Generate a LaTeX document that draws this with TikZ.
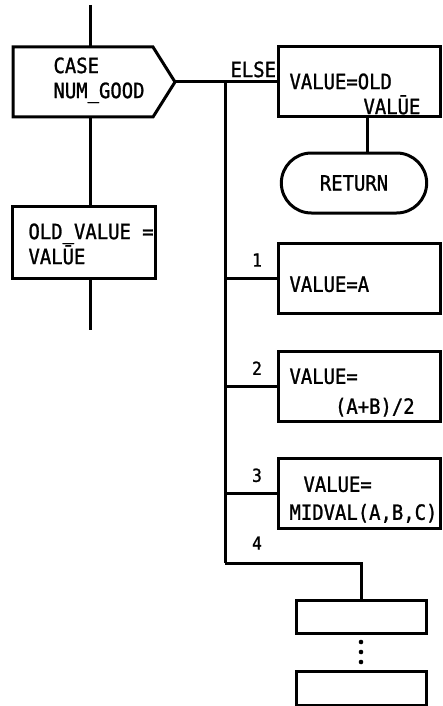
\documentclass[tikz,border=0pt]{standalone}
\usepackage{fontspec}
\newfontfamily\plotfont[FakeStretch=0.9, FakeBold=1.2]{DejaVu Sans Mono}
\usepackage{tikz}
\usetikzlibrary{positioning,shapes}
\tikzset{
        every node/.style={font=\plotfont\fontsize{21}{25}\selectfont}, % plotter lettering
        block/.style={draw, rectangle, inner sep=0pt, outer sep=0pt}, % process box
        stop/.style={draw, rounded rectangle, minimum width=152pt, minimum height=60pt}, % terminal
    }
\tikzstyle{txt}=[inner sep=0pt, anchor=north west, align=left]
\tikzstyle{lbl}=[inner sep=0pt, anchor=north, font=\plotfont\fontsize{18}{20}\selectfont]

\begin{document}
\begin{tikzpicture}[x=1pt, y=-1pt, line width=3pt]
    \useasboundingbox (0,0) rectangle (442,706);
    % left column
    \coordinate (top) at (90,5);
    \coordinate (bottom) at (90,330);
    \node[block, draw=none, minimum width=140pt, minimum height=70pt] (case) at (83,82) {};
    \coordinate (casetip) at (175,82);
    \draw (case.north west) -- (case.north east) -- (casetip) -- (case.south east) -- (case.south west) -- cycle;
    \node[txt] (casetext) at (52,56) {CASE\\NUM\_GOOD};
    \node[block, minimum width=143pt, minimum height=72pt] (oldbox) at (83.5,242) {};
    \node[txt] (oldtext) at (27,222) {OLD\_VALUE =\\VALŪE};
    \draw (top) -- (top |- case.north);
    \draw (top |- case.south) -- (top |- oldbox.north);
    \draw (top |- oldbox.south) -- (bottom);
    % else branch
    \node[block, minimum width=162pt, minimum height=70pt] (elsebox) at (359,82) {};
    \node[txt] (elsetext) at (288,72) {VALUE=OLD\\\hspace*{74pt}VALŪE};
    \node[txt] (elselbl) at (229,60) {ELSE};
    \node[stop] (ret) at (354,183) {RETURN};
    \draw (casetip) -- (elsebox.west);
    \draw ([xshift=8pt]elsebox.south) -- ([xshift=8pt]elsebox.south |- ret.north);
    % numbered branches
    \coordinate (bus) at (225,82);
    \coordinate (busend) at (225,563);
    \draw (bus) -- (busend);
    \foreach \n/\y in {1/278, 2/386, 3/493} {
        \node[block, minimum width=162pt, minimum height=70pt] (box\n) at (359,\y) {};
        \draw (bus |- box\n.west) -- (box\n.west);
        \node[lbl] (num\n) at (257,\y-26) {\n};
    }
    \node[txt] (text1) at (288,275) {VALUE=A};
    \node[txt] (text2) at (288,367) {VALUE=\\[5pt]\phantom{VALU}(A+B)/2};
    \node[txt] (text3) at (288,475) {\hspace*{14pt}VALUE=\\[3pt]MIDVAL(A,B,C)};
    \node[lbl] (num4) at (257,535) {4};
    \node[block, minimum width=130pt, minimum height=33pt] (boxA) at (361,616.5) {};
    \node[block, minimum width=130pt, minimum height=34pt] (boxB) at (361,688) {};
    \draw (busend) -- (busend -| boxA.north) -- (boxA.north);
    \foreach \y in {642,652,662}
        \fill (boxA.south |- 0,\y) circle (2.3pt);
\end{tikzpicture}
\end{document}
